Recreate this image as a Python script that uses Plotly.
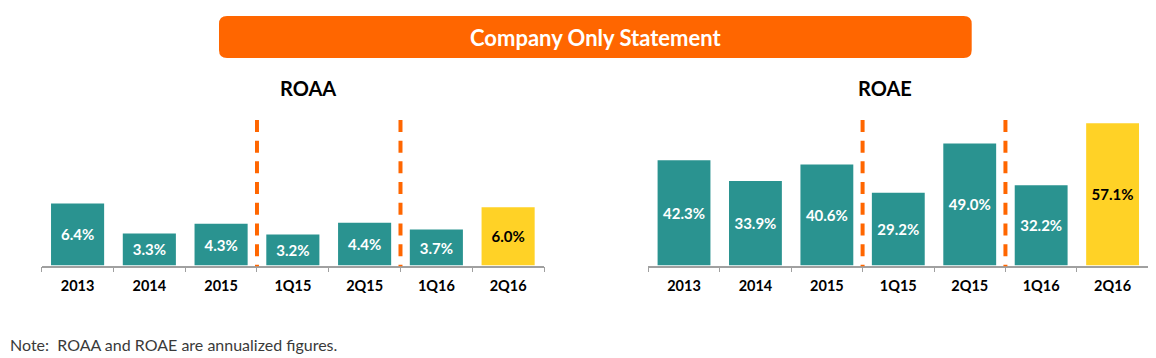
import plotly.graph_objects as go

# ---- data ----
categories = ["2013", "2014", "2015", "1Q15", "2Q15", "1Q16", "2Q16"]
roaa = [6.4, 3.3, 4.3, 3.2, 4.4, 3.7, 6.0]
roae = [42.3, 33.9, 40.6, 29.2, 49.0, 32.2, 57.1]
roaa_labels = ["6.4%", "3.3%", "4.3%", "3.2%", "4.4%", "3.7%", "6.0%"]
roae_labels = ["42.3%", "33.9%", "40.6%", "29.2%", "49.0%", "32.2%", "57.1%"]
banner_title = "Company Only Statement"
left_title = "ROAA"
right_title = "ROAE"
note_text = "Note:  ROAA and ROAE are annualized figures."

# page body has an 8px margin, so the figure starts at (8, 8)
OFF = 8
W, H = 1156 - OFF, 358 - OFF
FONT = "Lato, 'Liberation Sans', Arial, sans-serif"
TEAL = "#2A9390"
GOLD = "#FFD226"
ORANGE = "#FF6600"

def px_x(v):
    return (v - OFF) / W

def px_y(v):
    return 1 - (v - OFF) / H

bar_colors = [TEAL] * 6 + [GOLD]
text_colors = ["white"] * 6 + ["black"]

fig = go.Figure()

fig.add_trace(go.Bar(
    x=categories, y=roaa, text=roaa_labels, textposition="inside",
    insidetextanchor="middle", marker=dict(color=bar_colors, line=dict(width=0)),
    textfont=dict(family=FONT, size=15, color=text_colors, weight="bold"),
    textangle=0, xaxis="x", yaxis="y", hoverinfo="skip", cliponaxis=False,
))
fig.add_trace(go.Bar(
    x=categories, y=roae, text=roae_labels, textposition="inside",
    insidetextanchor="middle", marker=dict(color=bar_colors, line=dict(width=0)),
    textfont=dict(family=FONT, size=15, color=text_colors, weight="bold"),
    textangle=0, xaxis="x2", yaxis="y2", hoverinfo="skip", cliponaxis=False,
))

ydom = [px_y(265.5), px_y(118.5)]
xcommon = dict(
    type="category", tickson="boundaries", ticks="outside", ticklen=5,
    tickcolor="#A0A0A0", tickwidth=1.3, showline=True, linecolor="#A0A0A0",
    linewidth=1.5, showgrid=False, zeroline=False,
    tickfont=dict(family=FONT, size=14.5, color="black", weight="bold"),
    ticklabelstandoff=6, fixedrange=True,
)
ycommon = dict(visible=False, showgrid=False, zeroline=False, fixedrange=True)

fig.update_layout(
    width=W, height=H,
    margin=dict(l=0, r=0, t=0, b=0),
    paper_bgcolor="white", plot_bgcolor="white",
    showlegend=False, bargap=0.26,
    font=dict(family=FONT),
    xaxis=dict(domain=[px_x(41.7), px_x(544)], anchor="y", **xcommon),
    yaxis=dict(domain=ydom, range=[0, 147 / 9.7], anchor="x", **ycommon),
    xaxis2=dict(domain=[px_x(648.3), px_x(1148.3)], anchor="y2", **xcommon),
    yaxis2=dict(domain=ydom, range=[0, 147 / 2.49], anchor="x2", **ycommon),
)

# dashed separators (drawn top to bottom so the pattern starts with a full dash)
for xr, yr in (("x", "y"), ("x2", "y2")):
    for xv in (2.5, 4.5):
        fig.add_shape(type="line", xref=xr, yref=yr + " domain", x0=xv, x1=xv,
                      y0=0.99, y1=-0.005,
                      line=dict(color=ORANGE, width=4, dash="12px,8.7px"))

# rounded banner
x0, x1, y0, y1, r = 219, 971.7, 16, 58, 8
path = (
    f"M {px_x(x0 + r)} {px_y(y0)} L {px_x(x1 - r)} {px_y(y0)} "
    f"Q {px_x(x1)} {px_y(y0)} {px_x(x1)} {px_y(y0 + r)} "
    f"L {px_x(x1)} {px_y(y1 - r)} Q {px_x(x1)} {px_y(y1)} {px_x(x1 - r)} {px_y(y1)} "
    f"L {px_x(x0 + r)} {px_y(y1)} Q {px_x(x0)} {px_y(y1)} {px_x(x0)} {px_y(y1 - r)} "
    f"L {px_x(x0)} {px_y(y0 + r)} Q {px_x(x0)} {px_y(y0)} {px_x(x0 + r)} {px_y(y0)} Z"
)
fig.add_shape(type="path", xref="paper", yref="paper", path=path,
              fillcolor=ORANGE, line=dict(width=0), layer="below")

fig.add_annotation(text=banner_title, xref="paper", yref="paper",
                   x=px_x(595), y=px_y(37.5), xanchor="center", yanchor="middle",
                   showarrow=False,
                   font=dict(family=FONT, size=22, color="white", weight="bold"))
fig.add_annotation(text=left_title, xref="paper", yref="paper",
                   x=px_x(308), y=px_y(88), xanchor="center", yanchor="middle",
                   showarrow=False,
                   font=dict(family=FONT, size=20, color="black", weight="bold"))
fig.add_annotation(text=right_title, xref="paper", yref="paper",
                   x=px_x(885), y=px_y(88), xanchor="center", yanchor="middle",
                   showarrow=False,
                   font=dict(family=FONT, size=20, color="black", weight="bold"))
fig.add_annotation(text=note_text, xref="paper", yref="paper",
                   x=0, y=px_y(344), xanchor="left", yanchor="middle", showarrow=False,
                   font=dict(family=FONT, size=16, color="#3A3A3A"))

fig.write_html("out.html")
